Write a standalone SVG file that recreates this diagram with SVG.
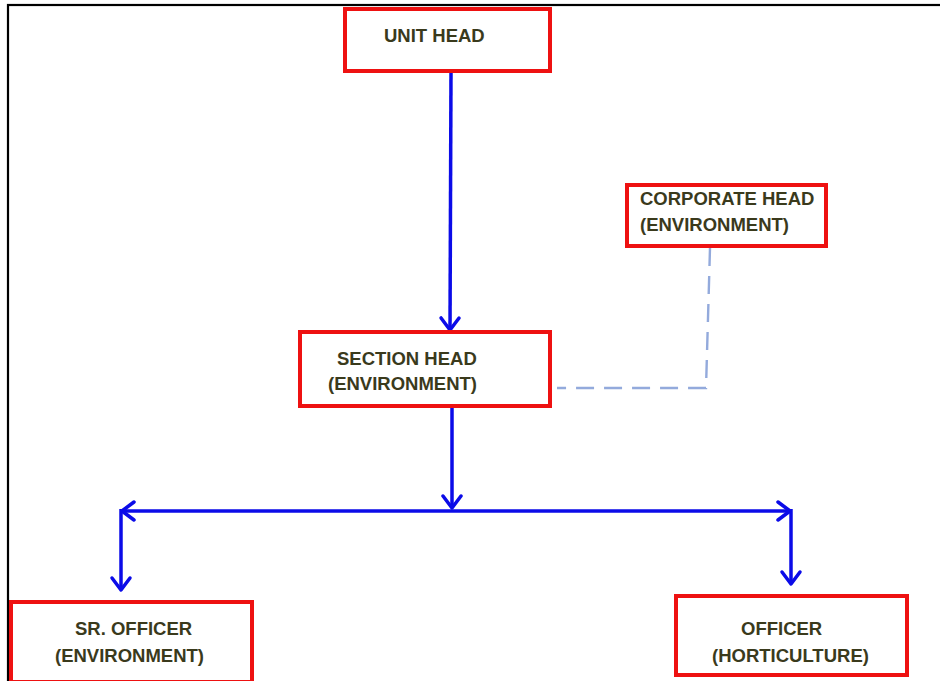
<svg xmlns="http://www.w3.org/2000/svg" width="940" height="681" viewBox="0 0 940 681">
<style>
.box{fill:#fff;stroke:#ee1111;stroke-width:4}
.t{font-family:"Liberation Sans",Arial,sans-serif;font-weight:bold;font-size:18.5px;fill:#3a3a1c}
.conn{fill:none;stroke:#0b0be8;stroke-width:3.5}
.dash{fill:none;stroke:#93aadc;stroke-width:2.4;stroke-dasharray:18,10}
</style>
<defs>
<marker id="chev" markerUnits="userSpaceOnUse" markerWidth="30" markerHeight="30" refX="0" refY="0" viewBox="-20 -15 30 30" orient="auto-start-reverse" overflow="visible">
<path d="M-12,-9 L0,0 L-12,9" fill="none" stroke="#0b0be8" stroke-width="3.5" stroke-linecap="round" stroke-linejoin="round"/>
</marker>
</defs>
<rect x="0" y="0" width="940" height="681" fill="#fff"/>
<rect x="8" y="5" width="960" height="700" fill="none" stroke="#000" stroke-width="2.2"/>
<g id="connectors">
<path class="conn" d="M451,71 L450,330" marker-end="url(#chev)"/>
<path class="conn" d="M452,406 L452,508" marker-end="url(#chev)"/>
<path class="conn" d="M122,511 L790,511" marker-start="url(#chev)" marker-end="url(#chev)"/>
<path class="conn" d="M121,509 L121,590" marker-end="url(#chev)"/>
<path class="conn" d="M791,509 L791,584" marker-end="url(#chev)"/>
<path class="dash" d="M710,248 L706,388 L557,388"/>
</g>
<g id="unit-head">
<rect class="box" x="345" y="9" width="205" height="62"/>
<text class="t" x="384" y="42">UNIT HEAD</text>
</g>
<g id="corporate-head">
<rect class="box" x="627" y="185" width="199" height="61"/>
<text class="t" x="640" y="205">CORPORATE HEAD</text>
<text class="t" x="640" y="231">(ENVIRONMENT)</text>
</g>
<g id="section-head">
<rect class="box" x="300" y="332" width="250" height="74"/>
<text class="t" x="337" y="365">SECTION HEAD</text>
<text class="t" x="328" y="390">(ENVIRONMENT)</text>
</g>
<g id="sr-officer">
<rect class="box" x="11" y="602" width="241" height="80"/>
<text class="t" x="75" y="635">SR. OFFICER</text>
<text class="t" x="55" y="662">(ENVIRONMENT)</text>
</g>
<g id="officer">
<rect class="box" x="676" y="596" width="231" height="79"/>
<text class="t" x="741" y="635">OFFICER</text>
<text class="t" x="712" y="662">(HORTICULTURE)</text>
</g>
</svg>
